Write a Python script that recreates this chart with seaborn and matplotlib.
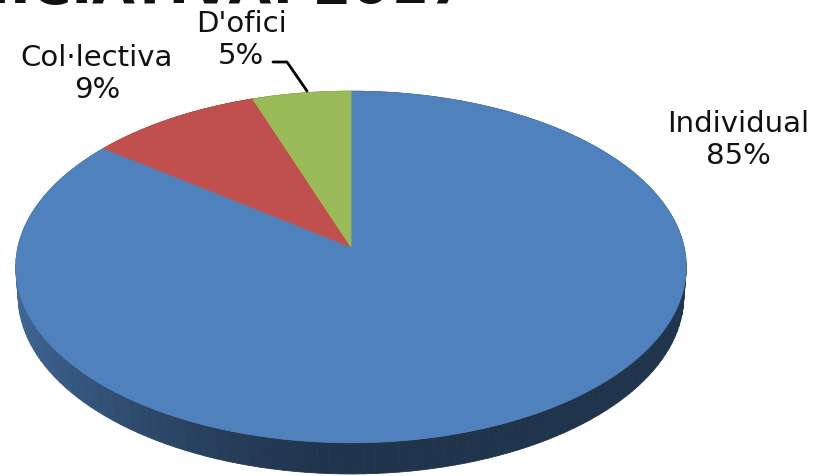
import numpy as np
import matplotlib.pyplot as plt
import matplotlib.colors as mcolors
import seaborn as sns

# dades llegides del gràfic
categories = ["Individual", "Col·lectiva", "D'ofici"]
shares = [85.4, 9.3, 5.3]
pct_labels = ["85%", "9%", "5%"]
top_colors = ["#4f81bd", "#c0504d", "#9bbb59"]
title = "SOL·LICITUDS SEGONS INICIATIVA. 2017"

sns.set_style("white")
plt.rcParams['font.family'] = ['DejaVu Sans']

# perspectiva del pastís 3D (en píxels)
elev = np.radians(31.4)
dist = 7.51
focal = 2501
cx, cy = 351, 248
thick = 0.103


def project(theta, z=0.0):
    # theta: angle en sentit horari des de les 12
    x = np.sin(theta)
    y = np.cos(theta)
    depth = dist + y * np.cos(elev) - z * np.sin(elev)
    px = x * focal / depth
    py = (y * np.sin(elev) + z * np.cos(elev)) * focal / depth
    return cx + px, cy - py


fig = plt.figure(figsize=(8.22, 4.77), dpi=100)
ax = fig.add_axes([0, 0, 1, 1])
ax.set_xlim(0, 822)
ax.set_ylim(477, 0)
ax.axis('off')

fracs = np.array(shares) / np.sum(shares)
bounds = np.concatenate([[0], np.cumsum(fracs)]) * 2 * np.pi

# lateral
for i in range(len(categories)):
    base = np.array(mcolors.to_rgb(top_colors[i]))
    th = np.linspace(bounds[i], bounds[i + 1], int(200 * fracs[i]) + 2)
    for a, b in zip(th[:-1], th[1:]):
        m = 0.5 * (a + b)
        t = max(0.0, -np.sin(m)) ** 1.5
        col = base * (0.4 + 0.4 * t)
        x1, y1 = project(a)
        x2, y2 = project(b)
        x3, y3 = project(b, -thick)
        x4, y4 = project(a, -thick)
        ax.fill([x1, x2, x3, x4], [y1, y2, y3, y4], color=col, lw=0.6, ec=col)

# cara superior
for i in range(len(categories)):
    th = np.linspace(bounds[i], bounds[i + 1], int(400 * fracs[i]) + 3)
    xs, ys = project(th)
    xs = np.concatenate([[cx], xs])
    ys = np.concatenate([[cy], ys])
    ax.fill(xs, ys, color=top_colors[i], lw=0.6, ec=top_colors[i])

# etiquetes
txt = '#111111'
ax.text(738, 140, f"{categories[0]}\n{pct_labels[0]}", ha='center', va='center',
        fontsize=21, linespacing=1.15, color=txt)
ax.text(97, 74, f"{categories[1]}\n{pct_labels[1]}", ha='center', va='center',
        fontsize=21, linespacing=1.15, color=txt)
ax.text(241, 40, f"{categories[2]}\n{pct_labels[2]}", ha='center', va='center',
        fontsize=21, linespacing=1.15, color=txt)
ax.plot([273, 287, 307], [63, 63, 92], color='black', lw=2)

# títol retallat a dalt
ax.text(467, 3, title, ha='right', va='baseline', fontsize=40,
        fontweight='bold', color='#111111', clip_on=False)

fig.savefig('out.png', dpi=100)
